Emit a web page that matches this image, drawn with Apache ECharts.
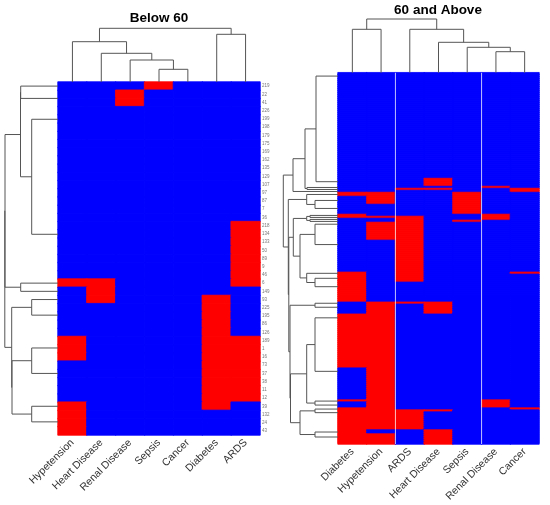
<!DOCTYPE html>
<html><head><meta charset="utf-8">
<script src="https://cdn.jsdelivr.net/npm/echarts@6/dist/echarts.min.js"></script>
<style>html,body{margin:0;padding:0;background:#fff}#c{width:550px;height:505px}</style>
</head><body><div id="c"></div>
<script>
const leftTitle = 'Below 60';
const rightTitle = '60 and Above';
const leftCols = ['Hypetension','Heart Disease','Renal Disease','Sepsis','Cancer','Diabetes','ARDS'];
const rightCols = ['Diabetes','Hypetension','ARDS','Heart Disease','Sepsis','Renal Disease','Cancer'];
const leftRowLabels = ['219','22','41','226','199','198','179','175','169','162','135','129','107','97','87','7','36','218','134','133','50','89','9','46','6','149','93','225','195','86','126','189','1','16','73','37','38','11','12','39','132','24','43'];
// 1 = present (red), 0 = absent (blue); column order = leftCols
const leftRows = [
 '0001000','0010000','0010000',
 '0000000','0000000','0000000','0000000','0000000','0000000','0000000',
 '0000000','0000000','0000000','0000000','0000000','0000000','0000000',
 '0000001','0000001','0000001','0000001','0000001','0000001','0000001',
 '1100001','0100000','0100010',
 '0000010','0000010','0000010','0000010',
 '1000011','1000011','1000011',
 '0000011','0000011','0000011','0000011','0000011',
 '1000010','1000000','1000000','1000000'
];
// right panel: [number of consecutive patients, pattern] ; column order = rightCols
const rightRuns = [
 [53,'0000000'],[4,'0001000'],[1,'0000010'],[1,'0011001'],[1,'0000001'],
 [2,'1100100'],[4,'0100100'],[5,'0000100'],[1,'1000010'],[1,'1110010'],
 [1,'0010010'],[1,'0010100'],[9,'0110000'],[16,'0010000'],[1,'1010001'],
 [4,'1010000'],[10,'1000000'],[1,'0111000'],[5,'0101000'],[27,'1100000'],
 [16,'0100000'],[1,'1100010'],[3,'0100010'],[1,'1100001'],[1,'1111000'],
 [9,'1110000'],[2,'1001000'],[5,'1101000']
];
const rightSplits = [2, 5];
const cellColors = ['#0000FF', '#FF0000'];
// dendrograms: [height, childA, childB]; a number = leaf position (row/column units)
const leftColTree = [53.7, [40.3, 0.5, [28.7, 1.5, [22, 2.5, [12.7, 3.5, 4.5]]]], [47.7, 5.5, 6.5]];
const rightColTree = [53.7, [43.4, 0.5, 1.5], [43.4, 2.5, [30.4, 3.5, [25.4, 4.5, [21, 5.5, 6.5]]]]];
const leftRowTree = [53.2,
  [53, [37.5, [37.3, 0.5, 2.0], [26.3, 4.54, 18.55]], [37.3, 24.5, 25.5]],
  [46.3, [26.3, 26.5, 28.4], [46, [26.3, 32.4, 35.5], [26.3, 39.5, 41.4]]]];
const rT = [45, [33, [22, 1.7, 54.6], [31, 57.5, 58.5]], 59.5];
const rS = [31.3, 61, [23, 64, 68]];
const rAD = [44.7, [31.3, [28, 71.5, 72.5], [28, 73.5, 74.5]], [38, [23, 75.9, 86.1], [31.3, 100.5, [23, 103, 107.2]]]];
const rB = [48, [23, 115.5, 117.5], [47.5,
   [31.3, [23, 122.8, 149.6], [23, 164.5, 166.5]],
   [38, [23, 168.5, 170.3], [23, 180, 182.5]]]];
const rightRowTree = [54.7, rT, [49.7, rS, [49.2, rAD, rB]]];

// ---- build ----
const rightRows = [];
rightRuns.forEach(([n, p]) => { for (let i = 0; i < n; i++) rightRows.push(p); });
function cells(rows) {
  const out = [];
  rows.forEach((p, r) => {
    for (let c = 0; c < p.length; c++) {
      const v = +p[c];
      out.push({value: [c, r, v], itemStyle: {color: cellColors[v], borderColor: cellColors[v], borderWidth: 0.8}});
    }
  });
  return out;
}
function links(node, out) {
  if (typeof node === 'number') return {p: node, h: 0};
  const a = links(node[1], out), b = links(node[2], out);
  out.push([a.p, a.h, b.p, b.h, node[0]]);
  return {p: (a.p + b.p) / 2, h: node[0]};
}
function linkData(tree) { const o = []; links(tree, o); return o; }
const lineCol = '#555';
function dendroTop(params, api) {
  const pA = api.value(0), hA = api.value(1), pB = api.value(2), hB = api.value(3), h = api.value(4);
  return {type: 'polyline', shape: {points: [api.coord([pA, hA]), api.coord([pA, h]), api.coord([pB, h]), api.coord([pB, hB])]},
    style: {stroke: lineCol, fill: 'none', lineWidth: 1}};
}
function dendroLeft(params, api) {
  const pA = api.value(0), hA = api.value(1), pB = api.value(2), hB = api.value(3), h = api.value(4);
  return {type: 'polyline', shape: {points: [api.coord([hA, pA]), api.coord([h, pA]), api.coord([h, pB]), api.coord([hB, pB])]},
    style: {stroke: lineCol, fill: 'none', lineWidth: 1}};
}
function splitLine(params, api) {
  const v = api.value(0);
  const a = api.coord([v, 0]), b = api.coord([v, rightRows.length]);
  return {type: 'line', shape: {x1: a[0], y1: a[1], x2: b[0], y2: b[1]},
    style: {stroke: 'rgba(255,255,255,0.75)', lineWidth: 1}};
}
const font = 'Liberation Sans, Arial, sans-serif';
const hid = {show: false};
const L = {left: 58, top: 82, width: 202, height: 353};
const R = {left: 338, top: 72.7, width: 201, height: 371.3};
const grids = [
  L,
  {left: 58, top: 28.3, width: 202, height: 53.7},
  {left: 4, top: 82, width: 54, height: 353},
  R,
  {left: 338, top: 19, width: 201, height: 53.7},
  {left: 283, top: 72.7, width: 55, height: 371.3},
  R
];
const catX = (data, gi) => ({type: 'category', gridIndex: gi, data: data, position: 'bottom',
  axisLine: hid, axisTick: hid, splitLine: hid,
  axisLabel: {interval: 0, rotate: 45, fontSize: 10.5, color: '#333', margin: 6, fontFamily: font}});
const valAx = (gi, min, max, inv) => ({type: 'value', gridIndex: gi, min: min, max: max, inverse: !!inv, show: false, splitLine: hid});
const option = {
  animation: false,
  title: [
    {text: leftTitle, left: 159, top: 11.5, textAlign: 'center', padding: 0, textStyle: {fontSize: 13.5, fontWeight: 'bold', color: '#000', fontFamily: font}},
    {text: rightTitle, left: 438, top: 3, textAlign: 'center', padding: 0, textStyle: {fontSize: 13.5, fontWeight: 'bold', color: '#000', fontFamily: font}}
  ],
  grid: grids,
  xAxis: [
    catX(leftCols, 0),
    valAx(1, 0, 7),
    valAx(2, 0, 54, true),
    catX(rightCols, 3),
    valAx(4, 0, 7),
    valAx(5, 0, 55, true),
    valAx(6, 0, 7)
  ],
  yAxis: [
    {type: 'category', gridIndex: 0, data: leftRowLabels, inverse: true, position: 'right',
      axisLine: hid, axisTick: hid, splitLine: hid,
      axisLabel: {interval: 0, fontSize: 4.5, color: '#777', margin: 2, fontFamily: font}},
    valAx(1, 0, 53.7),
    valAx(2, 0, leftRows.length, true),
    {type: 'category', gridIndex: 3, data: rightRows.map((_, i) => String(i + 1)), inverse: true,
      axisLine: hid, axisTick: hid, splitLine: hid, axisLabel: hid},
    valAx(4, 0, 53.7),
    valAx(5, 0, rightRows.length, true),
    valAx(6, 0, rightRows.length, true)
  ],
  series: [
    {type: 'heatmap', xAxisIndex: 0, yAxisIndex: 0, data: cells(leftRows), progressive: 0},
    {type: 'heatmap', xAxisIndex: 3, yAxisIndex: 3, data: cells(rightRows), progressive: 0},
    {type: 'custom', xAxisIndex: 1, yAxisIndex: 1, renderItem: dendroTop, data: linkData(leftColTree), silent: true},
    {type: 'custom', xAxisIndex: 2, yAxisIndex: 2, renderItem: dendroLeft, data: linkData(leftRowTree), silent: true},
    {type: 'custom', xAxisIndex: 4, yAxisIndex: 4, renderItem: dendroTop, data: linkData(rightColTree), silent: true},
    {type: 'custom', xAxisIndex: 5, yAxisIndex: 5, renderItem: dendroLeft, data: linkData(rightRowTree), silent: true},
    {type: 'custom', xAxisIndex: 6, yAxisIndex: 6, renderItem: splitLine, data: rightSplits.map(v => [v]), z: 10, silent: true}
  ]
};
const chart = echarts.init(document.getElementById('c'), null, {renderer: 'canvas'});
chart.setOption(option);
</script></body></html>
